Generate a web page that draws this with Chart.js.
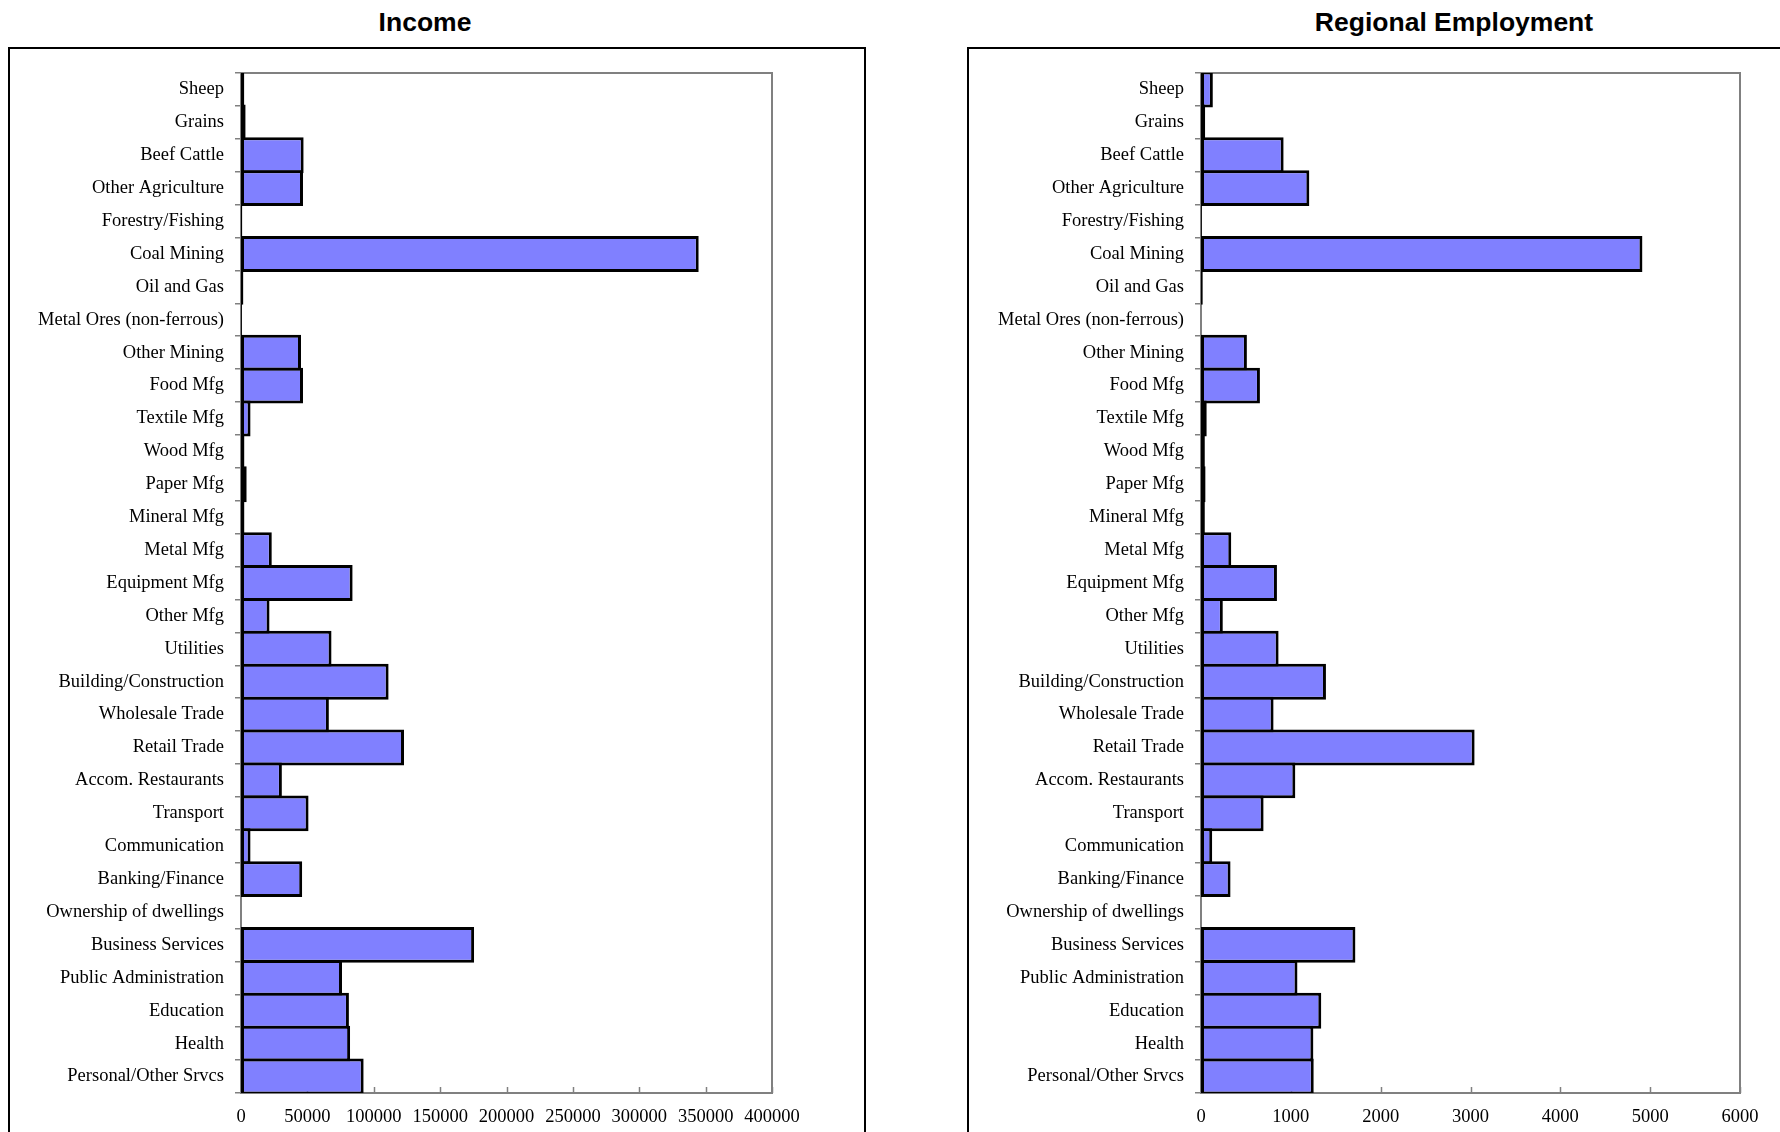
<!DOCTYPE html>
<html>
<head>
<meta charset="utf-8">
<script src="https://cdn.jsdelivr.net/npm/chart.js@4.4.1/dist/chart.umd.min.js"></script>
<style>
  body { margin: 0; width: 1780px; height: 1132px; overflow: hidden; background: #fff; position: relative; }
  .title { position: absolute; width: 500px; text-align: center; font: bold 26.5px "Liberation Sans", Arial, sans-serif; line-height: 30px; color: #000; }
  .box { position: absolute; box-sizing: border-box; border: 2px solid #000; }
  canvas { position: absolute; }
</style>
</head>
<body>
<div class="title" style="left:175px; top:7px;">Income</div>
<div class="title" style="left:1204px; top:7px;">Regional Employment</div>
<div class="box" style="left:8px; top:47px; width:858px; height:1200px;"></div>
<div class="box" style="left:967px; top:47px; width:900px; height:1200px;"></div>
<canvas id="income" width="854" height="1083" style="left:10px; top:49px;"></canvas>
<canvas id="employment" width="811" height="1083" style="left:969px; top:49px;"></canvas>
<script>
const sectors = [
    'Sheep', 'Grains', 'Beef Cattle', 'Other Agriculture', 'Forestry/Fishing',
    'Coal Mining', 'Oil and Gas', 'Metal Ores (non-ferrous)', 'Other Mining',
    'Food Mfg', 'Textile Mfg', 'Wood Mfg', 'Paper Mfg', 'Mineral Mfg', 'Metal Mfg',
    'Equipment Mfg', 'Other Mfg', 'Utilities', 'Building/Construction',
    'Wholesale Trade', 'Retail Trade', 'Accom. Restaurants', 'Transport',
    'Communication', 'Banking/Finance', 'Ownership of dwellings', 'Business Services',
    'Public Administration', 'Education', 'Health', 'Personal/Other Srvcs'
];

const income = [
    2500, 3500, 47200, 46700, 1000,
    344800, 1800, 700, 45200,
    46700, 7200, 2600, 4300, 2600, 23200,
    84100, 21500, 68200, 111200,
    66200, 122800, 30800, 50900,
    7200, 46100, null, 175600,
    76100, 81300, 82200, 92400
];

const employment = [
    132, 47, 920, 1206, 10,
    4914, 20, 0, 511,
    656, 64, 43, 51, 43, 337,
    845, 243, 864, 1391,
    808, 3046, 1050, 697,
    125, 329, null, 1719,
    1074, 1339, 1251, 1255
];

const incomeTicks = { max: 400000, step: 50000 };
const employmentTicks = { max: 6000, step: 1000 };

// grey plot frame plus short inward tick marks on the value axis
const frame = {
    id: 'frame',
    beforeDatasetsDraw(chart) {
        const a = chart.chartArea;
        const c = chart.ctx;
        const x = chart.scales.x;
        c.save();
        c.strokeStyle = '#808080';
        c.lineWidth = 2;
        c.strokeRect(a.left, a.top, a.right - a.left, a.bottom - a.top);
        c.lineWidth = 1.5;
        x.ticks.forEach(function (t) {
            const px = Math.round(x.getPixelForValue(t.value)) + 0.5;
            c.beginPath();
            c.moveTo(px, a.bottom);
            c.lineTo(px, a.bottom - 6);
            c.stroke();
        });
        c.restore();
    }
};

Chart.defaults.font.family = '"Liberation Serif", "Times New Roman", serif';
Chart.defaults.color = '#000';

function makeChart(id, values, range, axisWidth, rightPad) {
    const ctx = document.getElementById(id).getContext('2d');
    return new Chart(ctx, {
        type: 'bar',
        data: {
            labels: sectors,
            datasets: [{
                data: values,
                backgroundColor: '#8080FF',
                borderColor: '#000',
                borderWidth: 3,
                borderSkipped: false,
                barPercentage: 1.09,
                categoryPercentage: 1
            }]
        },
        options: {
            indexAxis: 'y',
            responsive: false,
            animation: false,
            layout: { padding: { left: 0, top: 24, right: rightPad, bottom: 0 } },
            plugins: {
                legend: { display: false },
                tooltip: { enabled: false }
            },
            scales: {
                x: {
                    min: 0,
                    max: range.max,
                    ticks: {
                        stepSize: range.step,
                        font: { size: 18.5 },
                        padding: 5,
                        maxRotation: 0,
                        autoSkip: false,
                        callback: function (v) { return String(v); }
                    },
                    grid: { display: false },
                    border: { display: false },
                    afterFit: function (s) { s.height = 39; }
                },
                y: {
                    ticks: { font: { size: 18.5 }, padding: 11, autoSkip: false },
                    grid: { drawOnChartArea: false, tickLength: 6, color: '#808080', lineWidth: 1.5 },
                    border: { display: false },
                    afterFit: function (s) { s.width = axisWidth; }
                }
            }
        },
        plugins: [frame]
    });
}

makeChart('income', income, incomeTicks, 231, 92);
makeChart('employment', employment, employmentTicks, 232, 40);
</script>
</body>
</html>
